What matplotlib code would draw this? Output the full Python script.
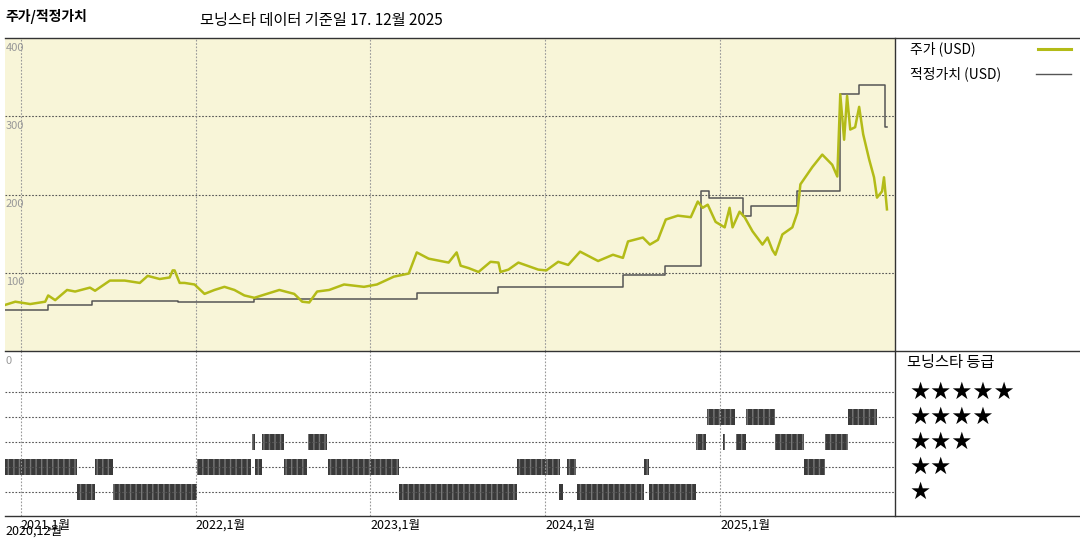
import matplotlib
matplotlib.use('Agg')
import matplotlib.pyplot as plt

plt.rcParams['font.family'] = ['Noto Sans CJK KR', 'DejaVu Sans']

# price (USD), dates as decimal years
price_t = [2020.912, 2020.969, 2021.054, 2021.140, 2021.157, 2021.197, 2021.265, 2021.311,
           2021.396, 2021.425, 2021.510, 2021.595, 2021.681, 2021.726, 2021.795, 2021.852,
           2021.869, 2021.880, 2021.909, 2021.937, 2021.994, 2022.051, 2022.108, 2022.165,
           2022.222, 2022.279, 2022.336, 2022.393, 2022.479, 2022.564, 2022.610, 2022.650,
           2022.695, 2022.764, 2022.849, 2022.963, 2023.037, 2023.134, 2023.219, 2023.265,
           2023.333, 2023.447, 2023.493, 2023.516, 2023.561, 2023.618, 2023.687, 2023.732,
           2023.744, 2023.789, 2023.846, 2023.960, 2024.006, 2024.074, 2024.131, 2024.199,
           2024.302, 2024.387, 2024.444, 2024.473, 2024.558, 2024.598, 2024.644, 2024.689,
           2024.758, 2024.832, 2024.872, 2024.900, 2024.929, 2024.974, 2025.026, 2025.054,
           2025.071, 2025.111, 2025.140, 2025.185, 2025.242, 2025.271, 2025.299, 2025.316,
           2025.356, 2025.413, 2025.442, 2025.459, 2025.527, 2025.584, 2025.641, 2025.670,
           2025.687, 2025.709, 2025.726, 2025.744, 2025.772, 2025.795, 2025.818, 2025.852,
           2025.880, 2025.897, 2025.926, 2025.937, 2025.954]
price_v = [59, 63, 60, 63, 71, 65, 78, 76,
           81, 77, 90, 90, 87, 96, 92, 94,
           103, 103, 87, 87, 85, 73, 78, 82,
           78, 71, 68, 72, 78, 73, 63, 62,
           76, 78, 85, 82, 85, 95, 99, 126,
           118, 113, 126, 109, 106, 101, 114, 113,
           101, 104, 113, 104, 103, 114, 110, 127,
           115, 123, 119, 140, 145, 136, 142, 168,
           173, 171, 191, 183, 187, 165, 158, 183,
           158, 178, 171, 153, 136, 145, 129, 123,
           149, 158, 177, 213, 235, 251, 238, 223,
           328, 270, 326, 283, 286, 312, 277, 245,
           222, 196, 204, 222, 181]

# fair value (USD), step starts
fair_t = [2020.912, 2021.157, 2021.407, 2021.897, 2022.336, 2023.265, 2023.732, 2024.444,
          2024.684, 2024.889, 2024.934, 2025.128, 2025.174, 2025.442, 2025.687, 2025.795,
          2025.943, 2025.954]
fair_v = [53, 59, 64, 62, 67, 74, 82, 97,
          108, 205, 196, 172, 185, 205, 329, 340,
          286, 286]

# Morningstar rating spans (start, end, stars)
rating_spans = [
    (2020.906, 2020.912, 3), (2020.912, 2021.322, 2), (2021.322, 2021.425, 1),
    (2021.425, 2021.527, 2), (2021.527, 2022.006, 1), (2022.006, 2022.319, 2),
    (2022.325, 2022.342, 3), (2022.342, 2022.382, 2), (2022.382, 2022.507, 3),
    (2022.507, 2022.638, 2), (2022.644, 2022.752, 3), (2022.758, 2023.162, 2),
    (2023.162, 2023.840, 1), (2023.840, 2024.085, 2), (2024.080, 2024.103, 1),
    (2024.125, 2024.177, 2), (2024.182, 2024.564, 1), (2024.564, 2024.593, 2),
    (2024.593, 2024.860, 1), (2024.860, 2024.917, 3), (2024.923, 2025.083, 4),
    (2025.014, 2025.026, 3), (2025.088, 2025.145, 3), (2025.145, 2025.311, 4),
    (2025.311, 2025.481, 3), (2025.481, 2025.601, 2), (2025.601, 2025.732, 3),
    (2025.732, 2025.897, 4),
]

year_ticks = [2021, 2022, 2023, 2024, 2025]
year_labels = ['2021,1월', '2022,1월', '2023,1월', '2024,1월', '2025,1월']
price_ticks = [100, 200, 300, 400]

X0, X1 = 2020.91, 2026.0
W, H = 1080, 540
fig = plt.figure(figsize=(10.8, 5.4), dpi=100)

def px_axes(l, t, r, b):
    return fig.add_axes([l / W, 1 - b / H, (r - l) / W, (b - t) / H])

grid_kw = dict(color='#555555', linestyle=(0, (1.5, 1.5)), linewidth=0.8)

# --- price panel
ax = px_axes(5, 38, 895, 351)
ax.set_facecolor('#f8f5d8')
ax.set_xlim(X0, X1)
ax.set_ylim(0, 400)
for y in price_ticks[:-1]:
    ax.axhline(y, **grid_kw)
for x in year_ticks:
    ax.axvline(x, color='#999999', linestyle=(0, (1.5, 1.5)), linewidth=0.8)
for y in price_ticks:
    ax.text(X0 + 0.005, y - 6, str(y), color='#999999', fontsize=8, va='top', ha='left')
ax.step(fair_t, fair_v, where='post', color='#555555', linewidth=1.1)
ax.plot(price_t, price_v, color='#b3bb17', linewidth=1.8)
ax.set_xticks([])
ax.set_yticks([])
for s in ax.spines.values():
    s.set_visible(False)

# --- rating panel
ax2 = px_axes(5, 351, 895, 516)
ax2.set_xlim(X0, X1)
ax2.set_ylim(0.04, 6.64)
for r in range(1, 6):
    ax2.axhline(r, **grid_kw)
for x in year_ticks:
    ax2.axvline(x, color='#999999', linestyle=(0, (1.5, 1.5)), linewidth=0.8)
for a, b, r in rating_spans:
    ax2.broken_barh([(a, b - a)], (r - 0.32, 0.64), facecolor='#3a3a3a',
                    edgecolor='#777777', hatch='|||', linewidth=0)
ax2.text(X0 + 0.005, 6.45, '0', color='#999999', fontsize=8, va='top')
ax2.set_xticks(year_ticks)
ax2.set_xticklabels(year_labels, fontsize=9, ha='left')
ax2.tick_params(axis='x', length=0, pad=2)
ax2.set_yticks([])
for s in ax2.spines.values():
    s.set_visible(False)
ax2.text(X0, -0.32, '2020,12월', fontsize=9, ha='left', va='top')

# --- frame lines and right legend
ln = dict(color='#333333', linewidth=1.0, transform=fig.transFigure)
fig.add_artist(plt.Line2D([5 / W, 1], [1 - 38 / H] * 2, **ln))
fig.add_artist(plt.Line2D([5 / W, 1], [1 - 351 / H] * 2, **ln))
fig.add_artist(plt.Line2D([5 / W, 1], [1 - 516 / H] * 2, **ln))
fig.add_artist(plt.Line2D([895 / W] * 2, [1 - 38 / H, 1 - 516 / H], **ln))

fig.text(5 / W, 1 - 17 / H, '주가/적정가치', fontsize=10, fontweight='bold', va='center')
fig.text(200 / W, 1 - 21 / H, '모닝스타 데이터 기준일 17. 12월 2025', fontsize=11, va='center')

fig.text(910 / W, 1 - 49 / H, '주가 (USD)', fontsize=10, va='center')
fig.add_artist(plt.Line2D([1038 / W, 1071 / W], [1 - 49 / H] * 2, color='#b3bb17',
                          linewidth=2.2, transform=fig.transFigure))
fig.text(910 / W, 1 - 74 / H, '적정가치 (USD)', fontsize=10, va='center')
fig.add_artist(plt.Line2D([1036 / W, 1071 / W], [1 - 74 / H] * 2, color='#555555',
                          linewidth=1.0, transform=fig.transFigure))

fig.text(907 / W, 1 - 362 / H, '모닝스타 등급', fontsize=11, va='center')
for i, stars in enumerate(range(5, 0, -1)):
    fig.text(909 / W, 1 - (392 + 25 * i) / H, '★' * stars, fontsize=17,
             va='center', family=['DejaVu Sans'])

fig.savefig('out.png', dpi=100)
